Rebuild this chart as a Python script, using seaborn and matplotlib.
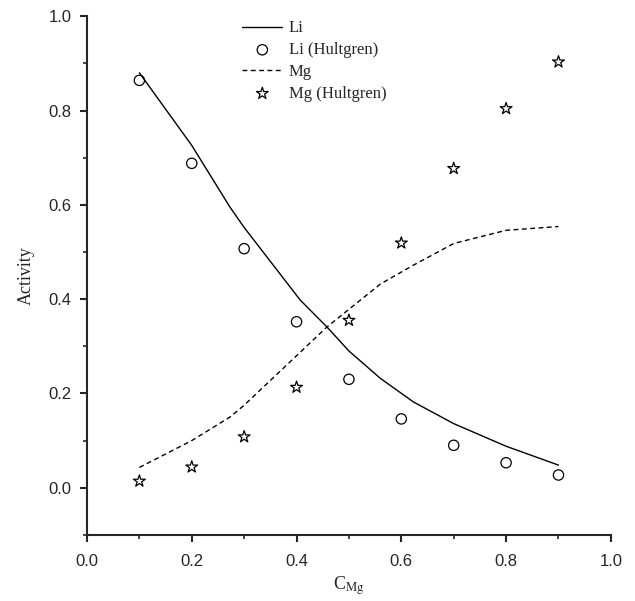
import pandas as pd
import numpy as np
import seaborn as sns
import matplotlib.pyplot as plt

# calculated curves
x_li = [0.1, 0.2, 0.273, 0.3, 0.407, 0.458, 0.5, 0.56, 0.623, 0.7, 0.8, 0.9]
li_calc = [0.88, 0.726, 0.595, 0.552, 0.398, 0.341, 0.29, 0.232, 0.182, 0.136, 0.088, 0.048]
x_mg = [0.1, 0.2, 0.273, 0.3, 0.4, 0.458, 0.522, 0.56, 0.623, 0.7, 0.8, 0.9]
mg_calc = [0.043, 0.10, 0.150, 0.175, 0.28, 0.341, 0.398, 0.432, 0.472, 0.518, 0.546, 0.554]

# Hultgren data points
x_exp = [0.1, 0.2, 0.3, 0.4, 0.5, 0.6, 0.7, 0.8, 0.9]
li_exp = [0.864, 0.688, 0.507, 0.352, 0.230, 0.146, 0.090, 0.053, 0.027]
mg_exp = [0.014, 0.044, 0.108, 0.213, 0.355, 0.519, 0.677, 0.804, 0.903]

li_df = pd.DataFrame({"x": x_li, "y": li_calc})
mg_df = pd.DataFrame({"x": x_mg, "y": mg_calc})
exp = pd.DataFrame({"x": x_exp, "Li": li_exp, "Mg": mg_exp})

sns.set_style("ticks")
plt.rcParams['mathtext.fontset'] = 'stix'

fig = plt.figure(figsize=(6.35, 6.01), dpi=100)
ax = fig.add_axes([0.137, 0.110, 0.825, 0.863])

sns.lineplot(data=li_df, x="x", y="y", ax=ax, color="black", linewidth=1.0, label="Li")
sns.scatterplot(data=exp, x="x", y="Li", ax=ax, marker="o", s=55, facecolor="none",
                edgecolor="black", linewidth=0.9, label="Li (Hultgren)")
sns.lineplot(data=mg_df, x="x", y="y", ax=ax, color="black", linewidth=1.0, label="Mg")
ax.lines[-1].set_dashes((3.5, 2.5))
sns.scatterplot(data=exp, x="x", y="Mg", ax=ax, marker="*", s=80, facecolor="none",
                edgecolor="black", linewidth=0.9, label="Mg (Hultgren)")

ax.set_xlim(0, 1.0)
ax.set_ylim(-0.1, 1.0)
ax.set_xticks(np.arange(0, 1.01, 0.2))
ax.set_yticks(np.arange(0, 1.01, 0.2))
ax.set_xticks(np.arange(0.1, 1.0, 0.2), minor=True)
ax.set_yticks([-0.1, 0.1, 0.3, 0.5, 0.7, 0.9], minor=True)
ax.xaxis.set_major_formatter(plt.FormatStrFormatter('%.1f'))
ax.yaxis.set_major_formatter(plt.FormatStrFormatter('%.1f'))

for s in ["left", "bottom"]:
    ax.spines[s].set_linewidth(1.5)
sns.despine(ax=ax)
ax.tick_params(which="major", length=5, width=1.5, direction="out", labelsize=12)
ax.tick_params(which="minor", length=3, width=1.2, direction="out")
ax.tick_params(axis="x", which="major", pad=9)
ax.tick_params(axis="y", which="major", pad=6)
for lab in ax.get_xticklabels() + ax.get_yticklabels():
    lab.set_fontfamily("Liberation Sans")

ax.set_xlabel(r"C$_{\mathrm{Mg}}$", fontsize=13, family="Liberation Serif", labelpad=4)
ax.set_ylabel("Activity", fontsize=13, family="Liberation Serif", labelpad=10)

lgd = ax.legend(loc="upper left", bbox_to_anchor=(234 / 635, 1 - 12 / 601),
                bbox_transform=fig.transFigure, frameon=False, borderpad=0,
                handlelength=2.4, handletextpad=0.4, labelspacing=0.35,
                prop={"family": "Liberation Serif", "size": 12})
# the dashed handle needs the same dash pattern as the line
lgd.get_lines()[1].set_dashes((3.5, 2.5))

plt.savefig("out.png", dpi=100)
plt.close()
